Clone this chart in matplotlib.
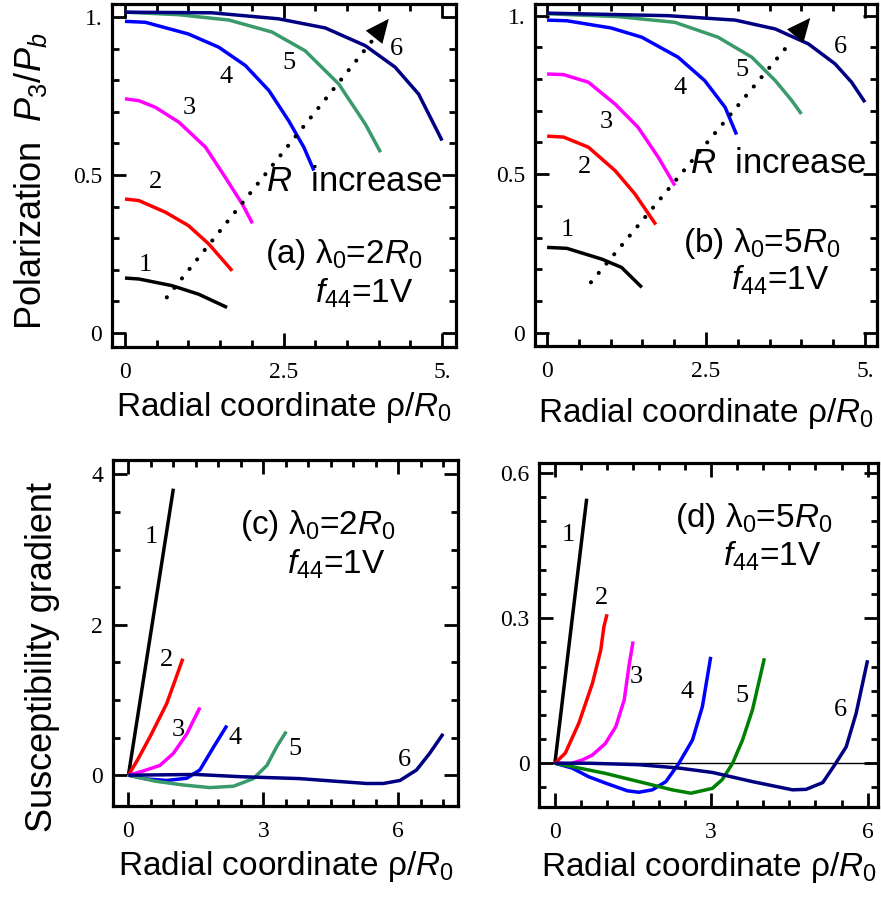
import numpy as np
import matplotlib
matplotlib.use("Agg")
import matplotlib.pyplot as plt
from matplotlib.ticker import MultipleLocator

plt.rcParams['font.family'] = ['Liberation Sans', 'DejaVu Sans']
plt.rcParams['mathtext.fontset'] = 'custom'
plt.rcParams['mathtext.rm'] = 'Liberation Sans'
plt.rcParams['mathtext.it'] = 'Liberation Sans:italic'
plt.rcParams['mathtext.bf'] = 'Liberation Sans:bold'

# === Panel (a): polarization, lambda0 = 2R0 ===
a_x = [
    [0, 0.22, 0.74, 1.16, 1.61],
    [0, 0.22, 0.64, 1.0, 1.32, 1.69],
    [0, 0.22, 0.48, 0.85, 1.27, 1.58, 1.85, 2.01],
    [0, 0.32, 1.0, 1.48, 1.9, 2.27, 2.58, 2.82, 2.98],
    [0, 0.85, 1.64, 2.32, 2.84, 3.37, 3.79, 4.03],
    [0, 1.37, 2.42, 3.16, 3.79, 4.26, 4.63, 5.0],
]
a_y = [
    [0.174, 0.171, 0.150, 0.123, 0.081],
    [0.424, 0.419, 0.382, 0.34, 0.282, 0.197],
    [0.741, 0.735, 0.714, 0.667, 0.588, 0.493, 0.408, 0.347],
    [0.986, 0.983, 0.946, 0.904, 0.846, 0.767, 0.672, 0.588, 0.514],
    [1.015, 1.007, 0.99, 0.952, 0.893, 0.788, 0.661, 0.572],
    [1.015, 1.013, 0.994, 0.965, 0.909, 0.841, 0.756, 0.609],
]

# === Panel (b): polarization, lambda0 = 5R0 ===
b_x = [
    [0, 0.31, 0.86, 1.17, 1.49],
    [0, 0.26, 0.65, 1.07, 1.38, 1.71],
    [0, 0.26, 0.65, 1.07, 1.43, 1.75, 2.01],
    [0, 0.31, 1.01, 1.49, 2.06, 2.48, 2.8, 2.98],
    [0, 1.12, 2.01, 2.69, 3.22, 3.59, 3.85, 4.0],
    [0, 1.9, 2.96, 3.59, 4.11, 4.53, 4.79, 5.0],
]
b_y = [
    [0.269, 0.266, 0.232, 0.206, 0.143],
    [0.62, 0.617, 0.585, 0.511, 0.438, 0.341],
    [0.816, 0.814, 0.79, 0.721, 0.648, 0.553, 0.464],
    [0.986, 0.984, 0.961, 0.932, 0.869, 0.795, 0.711, 0.625],
    [1.006, 0.997, 0.979, 0.932, 0.869, 0.795, 0.732, 0.69],
    [1.008, 1.0, 0.986, 0.958, 0.911, 0.848, 0.79, 0.727],
]

# === Panel (c): susceptibility gradient, lambda0 = 2R0 ===
c_x = [
    [0, 0.5, 1.0],
    [0, 0.2, 0.48, 0.85, 1.05, 1.21],
    [0, 0.3, 0.7, 1.0, 1.3, 1.59],
    [0, 0.4, 0.85, 1.3, 1.59, 1.9, 2.19],
    [0, 0.6, 1.22, 1.81, 2.34, 2.78, 3.08, 3.3, 3.51],
    [0, 1.5, 2.5, 3.8, 4.6, 5.3, 5.67, 6.04, 6.41, 6.7, 7.0],
]
c_y = [
    [0, 1.9, 3.81],
    [0, 0.2, 0.51, 0.95, 1.28, 1.55],
    [0, 0.05, 0.13, 0.29, 0.55, 0.9],
    [0, -0.05, -0.07, -0.04, 0.07, 0.38, 0.66],
    [0, -0.08, -0.13, -0.165, -0.146, -0.045, 0.13, 0.38, 0.58],
    [0, 0.01, -0.02, -0.045, -0.08, -0.11, -0.11, -0.07, 0.07, 0.29, 0.55],
]

# === Panel (d): susceptibility gradient, lambda0 = 5R0 ===
d_x = [
    [0, 0.3, 0.61],
    [0, 0.2, 0.46, 0.72, 0.88, 0.94, 1.0],
    [0, 0.3, 0.53, 0.72, 0.97, 1.17, 1.33, 1.42, 1.5],
    [0, 0.33, 0.65, 0.97, 1.39, 1.61, 1.87, 2.13, 2.38, 2.64, 2.83, 2.99],
    [0, 0.33, 0.97, 1.61, 2.25, 2.61, 3.02, 3.21, 3.41, 3.6, 3.79, 4.02],
    [0, 0.65, 1.61, 2.38, 3.02, 3.79, 4.56, 4.82, 5.14, 5.39, 5.59, 5.78, 6.0],
]
d_y = [
    [0, 0.27, 0.547],
    [0, 0.021, 0.083, 0.165, 0.234, 0.282, 0.308],
    [0, -0.001, 0.007, 0.017, 0.041, 0.076, 0.131, 0.2, 0.252],
    [0, -0.010, -0.028, -0.041, -0.057, -0.060, -0.055, -0.038, 0.0, 0.048, 0.117, 0.22],
    [0, -0.007, -0.021, -0.038, -0.055, -0.062, -0.052, -0.034, 0.0, 0.048, 0.11, 0.217],
    [0, 0.0, -0.003, -0.01, -0.019, -0.038, -0.055, -0.054, -0.040, 0.0, 0.034, 0.103, 0.213],
]

curve_names = ["1", "2", "3", "4", "5", "6"]
colors_abc = ["black", "#ff0000", "#ff00ff", "#0000ff", "#3a9a6a", "#000080"]
colors_d = ["black", "#ff0000", "#ff00ff", "#0000ff", "#008000", "#000080"]

# curve number label positions
a_lab = [(0.32, 0.215), (0.48, 0.479), (1.01, 0.711), (1.6, 0.811), (2.58, 0.853), (4.28, 0.90)]
b_lab = [(0.31, 0.324), (0.59, 0.524), (0.93, 0.666), (2.09, 0.771), (3.06, 0.829), (4.61, 0.902)]
c_lab = [(0.52, 3.17), (0.85, 1.53), (1.11, 0.6), (2.37, 0.49), (3.7, 0.35), (6.15, 0.2)]
d_lab = [(0.26, 0.471), (0.9, 0.341), (1.57, 0.179), (2.53, 0.148), (3.59, 0.138), (5.48, 0.11)]

# "R increase" arrows: start, end of dotted line, arrow tip
a_arrow = [(0.66, 0.113), (3.92, 0.930), (4.16, 0.994)]
b_arrow = [(0.69, 0.159), (3.85, 0.921), (4.14, 0.993)]

serif = 'Liberation Serif'


def style_axes(ax, xlim, ylim, xmin, ymin, xticks, xlabels, yticks, ylabels):
    ax.set_xlim(*xlim)
    ax.set_ylim(*ylim)
    ax.set_xticks(xticks)
    ax.set_xticklabels(xlabels, fontfamily=serif)
    ax.set_yticks(yticks)
    ax.set_yticklabels(ylabels, fontfamily=serif)
    ax.xaxis.set_minor_locator(MultipleLocator(xmin))
    ax.yaxis.set_minor_locator(MultipleLocator(ymin))
    ax.tick_params(which='both', direction='in', top=True, right=True, width=2)
    ax.tick_params(which='major', length=10)
    ax.tick_params(which='minor', length=5)
    ax.tick_params(axis='x', labelsize=17, pad=11)
    ax.tick_params(axis='y', labelsize=17, pad=7)
    for s in ax.spines.values():
        s.set_linewidth(2.3)


def draw_curves(ax, xs, ys, colors, labels):
    for x, y, c, (lx, ly), name in zip(xs, ys, colors, labels, curve_names):
        ax.plot(x, y, color=c, lw=2.5, solid_capstyle='butt', solid_joinstyle='round')
        ax.text(lx, ly, name, fontsize=19, fontfamily=serif, ha='center', va='center')


def draw_arrow(ax, pts):
    (x0, y0), (x1, y1), (xt, yt) = pts
    ax.plot([x0, x1], [y0, y1], color='k', lw=3.0, linestyle=(0, (0.01, 2.9)),
            dash_capstyle='round')
    ax.annotate("", xy=(xt, yt), xytext=(x0, y0),
                arrowprops=dict(arrowstyle='-|>,head_length=1.0,head_width=0.45',
                                mutation_scale=17, color='k', lw=0,
                                shrinkA=0, shrinkB=0))


fig = plt.figure(figsize=(8.81, 8.97), dpi=100)
ax_a = fig.add_axes([0.1271, 0.6132, 0.3905, 0.3824])
ax_b = fig.add_axes([0.6073, 0.6143, 0.3882, 0.3813])
ax_c = fig.add_axes([0.1279, 0.1014, 0.3919, 0.3857])
ax_d = fig.add_axes([0.6121, 0.1006, 0.3845, 0.3828])

xlab = r"Radial coordinate ρ/$R_0$"

# (a)
draw_curves(ax_a, a_x, a_y, colors_abc, a_lab)
draw_arrow(ax_a, a_arrow)
style_axes(ax_a, (-0.205, 5.22), (-0.044, 1.041), 0.5, 0.1,
           [0, 2.5, 5], ["0", "2.5", "5."], [0, 0.5, 1.0], ["0", "0.5", "1."])
ax_a.text(2.23, 0.479, r"$R$  increase", fontsize=25, ha='left', va='center')
ax_a.text(2.21, 0.247, r"(a) λ$_0$=2$R_0$", fontsize=24, ha='left', va='center')
ax_a.text(3.0, 0.125, r"$f_{44}$=1V", fontsize=24, ha='left', va='center')
ax_a.set_xlabel(xlab, fontsize=24, labelpad=5)
ax_a.set_ylabel(r"Polarization  $P_3/P_b$", fontsize=26)
ax_a.yaxis.set_label_coords(-0.183, 0.484)

# (b)
draw_curves(ax_b, b_x, b_y, colors_abc, b_lab)
draw_arrow(ax_b, b_arrow)
style_axes(ax_b, (-0.19, 5.19), (-0.042, 1.037), 0.5, 0.1,
           [0, 2.5, 5], ["0", "2.5", "5."], [0, 0.5, 1.0], ["0", "0.5", "1."])
ax_b.text(2.25, 0.534, r"$R$  increase", fontsize=25, ha='left', va='center')
ax_b.text(2.14, 0.282, r"(b) λ$_0$=5$R_0$", fontsize=24, ha='left', va='center')
ax_b.text(2.9, 0.166, r"$f_{44}$=1V", fontsize=24, ha='left', va='center')
ax_b.set_xlabel(xlab, fontsize=24, labelpad=10)

# (c)
draw_curves(ax_c, c_x, c_y, colors_abc, c_lab)
style_axes(ax_c, (-0.35, 7.33), (-0.41, 4.19), 0.5, 0.5,
           [0, 3, 6], ["0", "3", "6"], [0, 2, 4], ["0", "2", "4"])
ax_c.text(2.48, 3.32, r"(c) λ$_0$=2$R_0$", fontsize=24, ha='left', va='center')
ax_c.text(3.52, 2.81, r"$f_{44}$=1V", fontsize=24, ha='left', va='center')
ax_c.set_xlabel(xlab, fontsize=24, labelpad=5)
ax_c.set_ylabel("Susceptibility gradient", fontsize=26)
ax_c.yaxis.set_label_coords(-0.153, 0.431)

# (d)
ax_d.axhline(0, color='k', lw=1)
draw_curves(ax_d, d_x, d_y, colors_d, d_lab)
style_axes(ax_d, (-0.30, 6.2), (-0.09, 0.62), 0.5, 0.05,
           [0, 3, 6], ["0", "3", "6"], [0, 0.3, 0.6], ["0", "0.3", "0.6"])
ax_d.text(2.31, 0.506, r"(d) λ$_0$=5$R_0$", fontsize=24, ha='left', va='center')
ax_d.text(3.23, 0.427, r"$f_{44}$=1V", fontsize=24, ha='left', va='center')
ax_d.set_xlabel(xlab, fontsize=24, labelpad=5)

fig.savefig("out.png", dpi=100)
